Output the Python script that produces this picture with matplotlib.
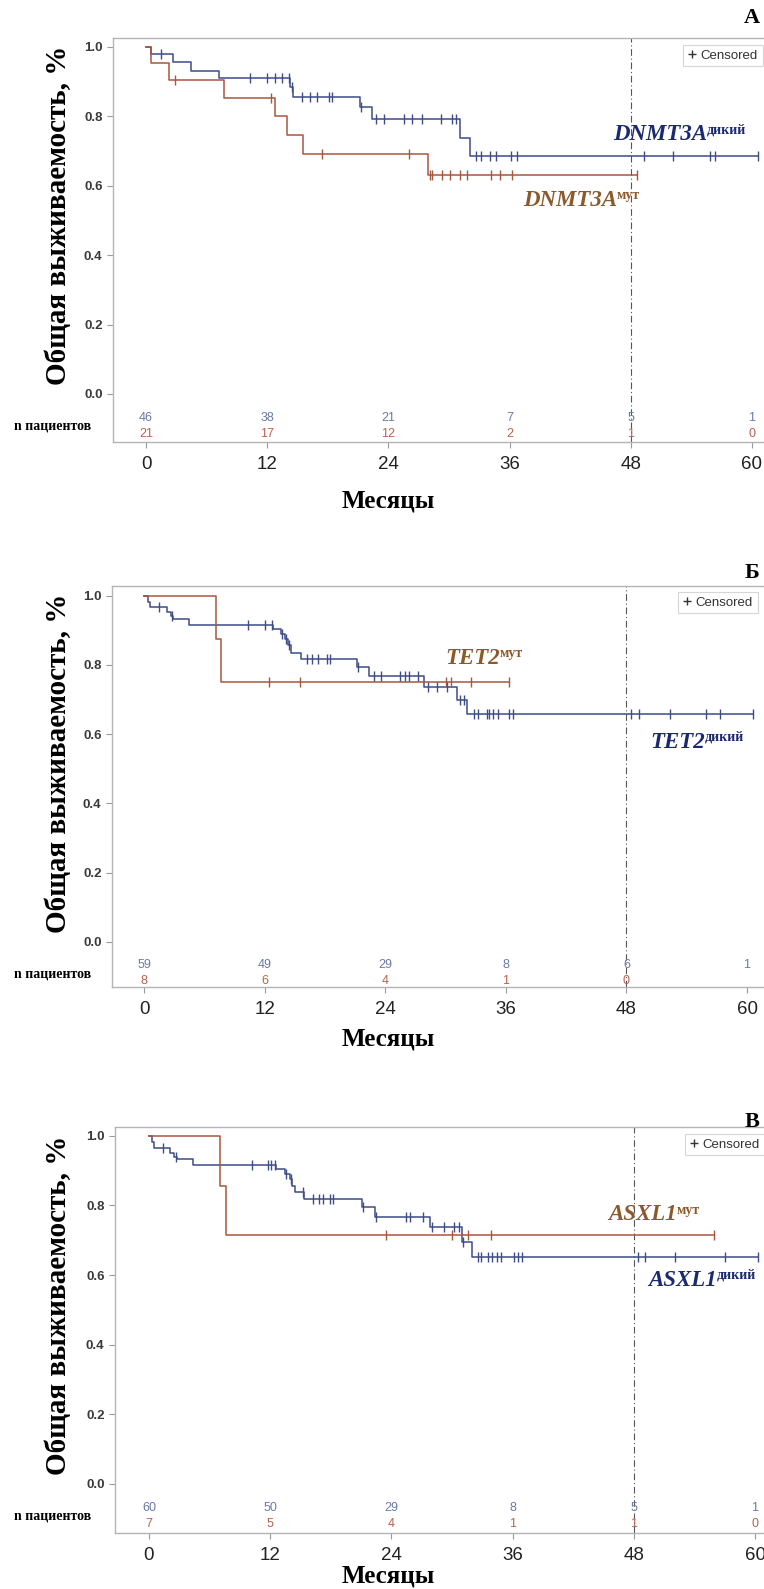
import matplotlib
matplotlib.use('Agg')
import matplotlib.pyplot as plt
from matplotlib.lines import Line2D
import numpy as np

plt.rcParams['font.family'] = ['Liberation Sans', 'DejaVu Sans']

W, H = 764, 1589
month_ticks = [0, 12, 24, 36, 48, 60]
y_ticks = [0.0, 0.2, 0.4, 0.6, 0.8, 1.0]

# --- DNMT3A ---
dnmt3a_wt_time = [0.5, 2.7, 4.5, 7.2, 14.3, 14.6, 21.2, 22.4, 31.1, 32.1]
dnmt3a_wt_surv = [0.978, 0.955, 0.930, 0.909, 0.883, 0.856, 0.825, 0.792, 0.738, 0.685]
dnmt3a_wt_cens = [1.5, 10.3, 11.95, 12.8, 13.5, 14.2, 14.45, 15.4, 16.2, 16.9, 18.1, 18.4,
                  21.3, 22.8, 23.6, 25.5, 26.3, 27.3, 29.2, 30.3, 30.7, 32.7, 33.2, 34.1,
                  34.7, 36.1, 36.7, 49.3, 52.2, 55.8, 56.3, 60.6]
dnmt3a_mut_time = [0.5, 2.3, 7.75, 12.8, 14.0, 15.5, 27.9]
dnmt3a_mut_surv = [0.952, 0.905, 0.851, 0.800, 0.745, 0.692, 0.631]
dnmt3a_mut_cens = [2.9, 12.4, 17.4, 26.0, 28.1, 28.3, 29.3, 30.1, 31.1, 31.75, 34.2, 35.0,
                   36.2, 48.6]
dnmt3a_risk_wt = [46, 38, 21, 7, 5, 1]
dnmt3a_risk_mut = [21, 17, 12, 2, 1, 0]

# --- TET2 ---
tet2_wt_time = [0.4, 0.6, 2.3, 2.7, 2.9, 4.5, 12.8, 13.6, 14.0, 14.3, 14.6, 15.6, 21.2,
                22.4, 27.9, 31.1, 32.1]
tet2_wt_surv = [0.983, 0.966, 0.954, 0.941, 0.932, 0.915, 0.903, 0.889, 0.875, 0.857,
                0.835, 0.816, 0.795, 0.768, 0.737, 0.699, 0.657]
tet2_wt_cens = [1.5, 2.8, 10.3, 12.0, 12.7, 13.7, 14.1, 14.4, 16.2, 16.7, 17.3, 18.2, 18.5,
                21.3, 22.9, 23.6, 25.5, 26.0, 26.4, 27.3, 28.3, 29.2, 30.1, 31.4, 31.8,
                32.8, 33.2, 34.1, 34.3, 34.7, 35.2, 36.3, 36.7, 48.5, 49.3, 52.3, 55.9,
                57.3, 60.6]
tet2_mut_time = [7.2, 7.7]
tet2_mut_surv = [0.875, 0.750]
tet2_mut_cens = [12.4, 15.5, 30.0, 30.5, 32.5, 36.3]
tet2_risk_wt = [59, 49, 29, 8, 6, 1]
tet2_risk_mut = [8, 6, 4, 1, 0]

# --- ASXL1 ---
asxl1_wt_time = [0.3, 0.5, 2.1, 2.5, 2.8, 4.4, 12.6, 13.5, 14.0, 14.2, 14.5, 15.3, 21.1,
                 22.4, 27.8, 31.0, 32.0]
asxl1_wt_surv = [0.983, 0.966, 0.951, 0.939, 0.932, 0.915, 0.903, 0.889, 0.876, 0.855,
                 0.837, 0.818, 0.795, 0.767, 0.738, 0.694, 0.651]
asxl1_wt_cens = [1.4, 2.7, 10.2, 11.8, 12.1, 12.5, 13.6, 14.1, 15.2, 16.2, 16.8, 17.2,
                 17.9, 18.25, 21.2, 22.5, 25.4, 25.8, 27.1, 28.0, 29.2, 30.2, 30.7, 31.1,
                 32.6, 32.9, 33.6, 34.0, 34.5, 34.9, 36.1, 36.5, 36.9, 48.4, 49.1, 52.1,
                 57.0, 60.3]
asxl1_mut_time = [7.0, 7.6]
asxl1_mut_surv = [0.857, 0.714]
asxl1_mut_cens = [23.5, 30.0, 31.6, 33.9, 55.9]
asxl1_risk_wt = [60, 50, 29, 8, 5, 1]
asxl1_risk_mut = [7, 5, 4, 1, 1, 0]

WT_LINE = '#3e4c88'
MUT_LINE = '#a9563f'
WT_RISK = '#6b79a6'
MUT_RISK = '#b8624e'
WT_TEXT = '#1b2a6e'
MUT_TEXT = '#8b5a2b'
SERIF = ['Liberation Serif', 'DejaVu Serif']
NARROW = ['Liberation Sans Narrow', 'Liberation Sans', 'DejaVu Sans']


def fx(px):
    return px / W


def fy(py):
    return 1 - py / H


def surv_at(times, surv, t):
    i = np.searchsorted(times, t, side='right')
    return 1.0 if i == 0 else surv[i - 1]


def km_curve(ax, times, surv, cens, color):
    end = max(cens[-1], times[-1])
    xs = [0.0] + list(times) + [end]
    ys = [1.0] + list(surv) + [surv[-1]]
    ax.plot(xs, ys, drawstyle='steps-post', color=color, lw=1.1, zorder=3)
    cy = [surv_at(times, surv, c) for c in cens]
    ax.plot(cens, cy, ls='none', marker='|', ms=7.5, mew=1.0, color=color, zorder=4)


def gene_label(ax, to_data, px, py, name, sup, color):
    x, y = to_data(px, py)
    t = ax.text(x, y, name, ha='left', va='center', fontsize=16.5, color=color,
                family=SERIF, fontweight='bold', fontstyle='italic', zorder=5)
    ax.annotate(sup, xy=(1.0, 0.42), xycoords=t, ha='left', va='bottom', fontsize=10,
                color=color, family=SERIF, fontweight='bold', zorder=5)


def panel(fig, fr, wt, mut, risk_wt, risk_mut, labels, letter):
    left, top, bottom = fr['left'], fr['top'], fr['bottom']
    x0, ppm, y1, y0 = fr['x0'], fr['ppm'], fr['y1'], fr['y0']
    right = 780
    ppu = y0 - y1
    ax = fig.add_axes([fx(left), fy(bottom), (right - left) / W, (bottom - top) / H])
    ax.set_xlim((left - x0) / ppm, (right - x0) / ppm)
    ax.set_ylim((y0 - bottom) / ppu, (y0 - top) / ppu)

    def to_data(px, py):
        return (px - x0) / ppm, (y0 - py) / ppu

    for s in ax.spines.values():
        s.set_color('#b4b4b4')
        s.set_linewidth(1.0)
    ax.set_xticks(month_ticks)
    ax.set_xticklabels([str(m) for m in month_ticks], fontsize=13.5, color='#222222',
                       family=NARROW)
    ax.set_yticks(y_ticks)
    ax.set_yticklabels(['%.1f' % v for v in y_ticks], fontsize=9.5, color='#3a3a3a',
                       fontweight='bold')
    ax.tick_params(axis='both', color='#9a9a9a', length=4, width=0.8)
    ax.tick_params(axis='x', pad=6)

    ax.axvline(48, color='#555555', lw=0.8, ls=(0, (6, 2.5, 1, 2.5)), zorder=2)

    km_curve(ax, *wt, WT_LINE)
    km_curve(ax, *mut, MUT_LINE)

    for m, n in zip(month_ticks, risk_wt):
        ax.text(m, -0.068, str(n), ha='center', va='center', fontsize=9, color=WT_RISK,
                family=NARROW)
    for m, n in zip(month_ticks, risk_mut):
        ax.text(m, -0.114, str(n), ha='center', va='center', fontsize=9, color=MUT_RISK,
                family=NARROW)

    handle = Line2D([], [], ls='none', marker='+', ms=6, mew=1.0, color='#333333')
    lx = (fr['leg'][0] - left) / (right - left)
    ly = (bottom - fr['leg'][1]) / (bottom - top)
    leg = ax.legend([handle], ['Censored'], loc='upper left', bbox_to_anchor=(lx, ly),
                    fontsize=9.5, frameon=True, fancybox=False, borderaxespad=0,
                    handlelength=0.7, handletextpad=0.3, borderpad=0.35)
    leg.get_frame().set_edgecolor('#cccccc')
    leg.get_frame().set_linewidth(0.8)
    for txt in leg.get_texts():
        txt.set_color('#333333')

    for (px, py, name, sup, col) in labels:
        gene_label(ax, to_data, px, py, name, sup, col)

    fig.text(fx(59), fy((y1 + y0) / 2 - 5), 'Общая выживаемость, %', rotation=90,
             ha='center', va='center', fontsize=21, fontweight='bold', family=SERIF)
    fig.text(fx(53), fy(y0 + 32), 'n пациентов', ha='center', va='center',
             fontsize=10, fontweight='bold', family=SERIF)
    fig.text(fx(388), fy(fr['xlab']), 'Месяцы', ha='center', va='center',
             fontsize=18, fontweight='bold', family=SERIF)
    fig.text(fx(752), fy(fr['letter']), letter, ha='center', va='center',
             fontsize=16, fontweight='bold', family=SERIF)
    return ax


fig = plt.figure(figsize=(W / 100, H / 100), dpi=100)

frame_a = dict(left=113, top=38, bottom=442, x0=146, ppm=10.1, y1=46.7, y0=394,
               leg=(683, 45), xlab=501, letter=18)
frame_b = dict(left=112, top=586, bottom=987, x0=144, ppm=10.05, y1=595.7, y0=941.7,
               leg=(678, 592), xlab=1039, letter=573)
frame_c = dict(left=115, top=1127, bottom=1533, x0=149, ppm=10.1, y1=1135.7, y0=1484,
               leg=(685, 1134), xlab=1576, letter=1122)

panel(fig, frame_a,
      (dnmt3a_wt_time, dnmt3a_wt_surv, dnmt3a_wt_cens),
      (dnmt3a_mut_time, dnmt3a_mut_surv, dnmt3a_mut_cens),
      dnmt3a_risk_wt, dnmt3a_risk_mut,
      [(613, 135, 'DNMT3A', 'дикий', WT_TEXT), (523, 200, 'DNMT3A', 'мут', MUT_TEXT)],
      'A')
panel(fig, frame_b,
      (tet2_wt_time, tet2_wt_surv, tet2_wt_cens),
      (tet2_mut_time, tet2_mut_surv, tet2_mut_cens),
      tet2_risk_wt, tet2_risk_mut,
      [(445, 658, 'TET2', 'мут', MUT_TEXT), (650, 742, 'TET2', 'дикий', WT_TEXT)],
      'Б')
panel(fig, frame_c,
      (asxl1_wt_time, asxl1_wt_surv, asxl1_wt_cens),
      (asxl1_mut_time, asxl1_mut_surv, asxl1_mut_cens),
      asxl1_risk_wt, asxl1_risk_mut,
      [(608, 1215, 'ASXL1', 'мут', MUT_TEXT), (648, 1280, 'ASXL1', 'дикий', WT_TEXT)],
      'В')

fig.savefig('out.png', dpi=100)
